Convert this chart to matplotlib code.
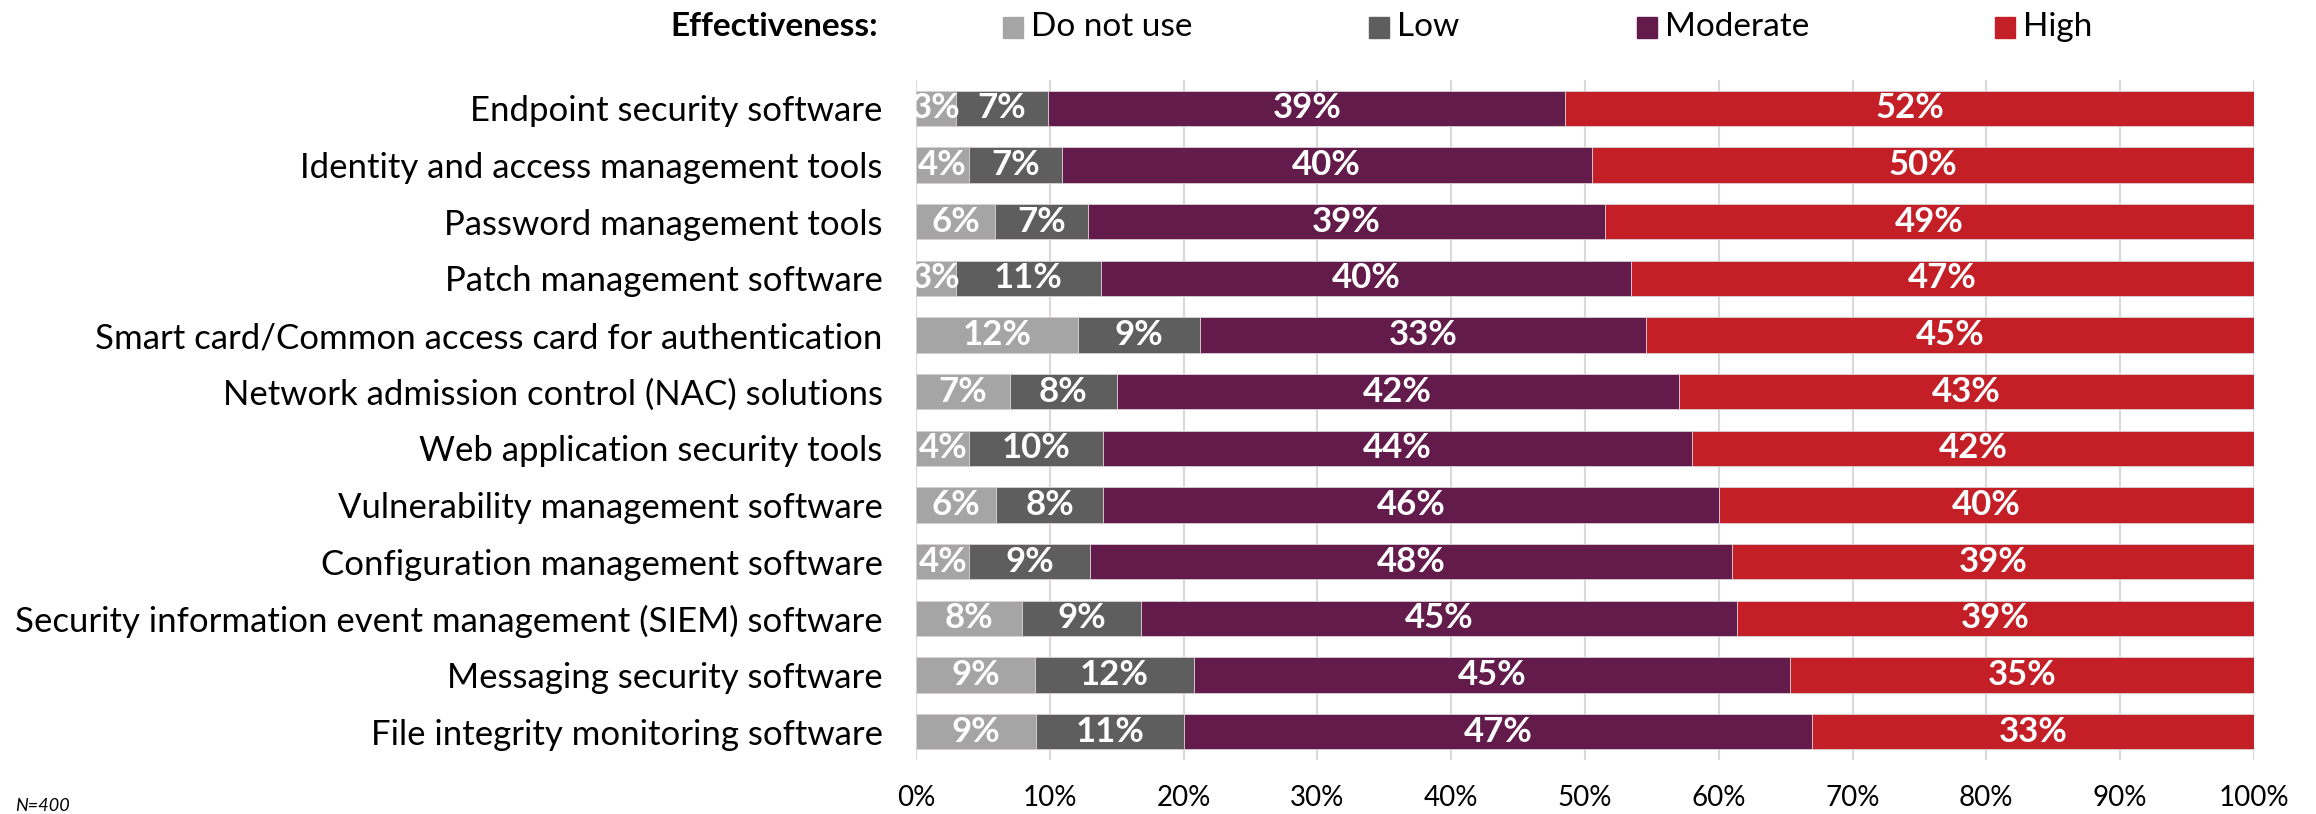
import matplotlib
matplotlib.use("Agg")
import matplotlib.pyplot as plt
from matplotlib.patches import Rectangle
import numpy as np

plt.rcParams['font.family'] = ['Lato', 'DejaVu Sans']

# data
categories = [
    "Endpoint security software",
    "Identity and access management tools",
    "Password management tools",
    "Patch management software",
    "Smart card/Common access card for authentication",
    "Network admission control (NAC) solutions",
    "Web application security tools",
    "Vulnerability management software",
    "Configuration management software",
    "Security information event management (SIEM) software",
    "Messaging security software",
    "File integrity monitoring software",
]
do_not_use = [3, 4, 6, 3, 12, 7, 4, 6, 4, 8, 9, 9]
low = [7, 7, 7, 11, 9, 8, 10, 8, 9, 9, 12, 11]
moderate = [39, 40, 39, 40, 33, 42, 44, 46, 48, 45, 45, 47]
high = [52, 50, 49, 47, 45, 43, 42, 40, 39, 39, 35, 33]

series_names = ["Do not use", "Low", "Moderate", "High"]
colors = ["#a5a5a5", "#5e5e5e", "#621b4b", "#c41f27"]

values = np.array([do_not_use, low, moderate, high], dtype=float)
shares = values / values.sum(axis=0) * 100

fig = plt.figure(figsize=(23.16, 8.14), dpi=100)
ax = fig.add_axes([0.3955, 0.0663, 0.5777, 0.8354])

y = np.arange(len(categories))
left = np.zeros(len(categories))
for i in range(4):
    ax.barh(y, shares[i], left=left, height=0.62, color=colors[i],
            edgecolor="#d8d0d4", linewidth=0.6, zorder=3)
    for j in range(len(categories)):
        ax.text(left[j] + shares[i][j] / 2, y[j], "%d%%" % values[i][j],
                ha="center", va="center", color="white", fontsize=25,
                fontweight="bold", zorder=4)
    left += shares[i]

ax.set_xlim(0, 100)
ax.set_ylim(len(categories) - 0.5, -0.5)
ax.set_xticks(np.arange(0, 101, 10))
ax.set_xticklabels(["%d%%" % v for v in range(0, 101, 10)], fontsize=20)
ax.set_yticks(y)
ax.set_yticklabels(categories, fontsize=25)
ax.tick_params(axis="both", length=0)
ax.tick_params(axis="y", pad=24)
ax.tick_params(axis="x", pad=18)
ax.grid(axis="x", color="#d9d9d9", linewidth=1.5, zorder=0)
for s in ax.spines.values():
    s.set_visible(False)

# legend across the top
fig.text(878 / 2316, 1 - 27 / 814, "Effectiveness:", ha="right", va="center",
         fontsize=24, fontweight="bold")
legend_x = [1003, 1369, 1637, 1995]
for name, c, lx in zip(series_names, colors, legend_x):
    fig.patches.append(Rectangle((lx / 2316, 1 - 38 / 814), 20 / 2316, 21 / 814,
                                 transform=fig.transFigure, color=c))
    fig.text((lx + 28) / 2316, 1 - 27 / 814, name, ha="left", va="center",
             fontsize=24)

fig.text(15 / 2316, 1 - 806 / 814, "N=400", ha="left", va="center",
         fontsize=13, style="italic")

fig.savefig("out.png", dpi=100)
